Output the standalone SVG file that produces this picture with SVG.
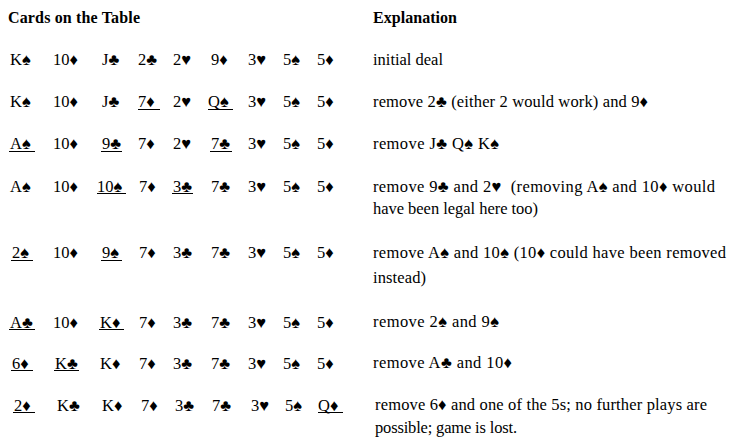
<svg xmlns="http://www.w3.org/2000/svg" width="732" height="445" viewBox="0 0 732 445">
<style>
text{font-family:"Liberation Serif","DejaVu Serif",serif;font-size:16.5px;fill:#000}
.h{font-weight:bold;font-size:16px}
.u{stroke:#000;stroke-width:1}
</style>
<rect width="732" height="445" fill="#fff"/>
<g id="headers">
<text class="h" x="8" y="23" textLength="132">Cards on the Table</text>
<text class="h" x="373" y="23" textLength="84">Explanation</text>
</g>
<g id="row1">
<text x="10" y="65">K♠</text><text x="53" y="65">10♦</text><text x="102" y="65">J♣</text><text x="138" y="65">2♣</text><text x="173" y="65">2♥</text><text x="211" y="65">9♦</text><text x="248" y="65">3♥</text><text x="283" y="65">5♠</text><text x="317" y="65">5♦</text>
</g>
<g id="row2">
<text x="10" y="107">K♠</text><text x="53" y="107">10♦</text><text x="102" y="107">J♣</text><text x="138" y="107">7♦</text><text x="173" y="107">2♥</text><text x="208" y="107">Q♠</text><text x="248" y="107">3♥</text><text x="283" y="107">5♠</text><text x="317" y="107">5♦</text>
<line class="u" x1="138" y1="109.5" x2="160" y2="109.5"/><line class="u" x1="208" y1="109.5" x2="233" y2="109.5"/>
</g>
<g id="row3">
<text x="10" y="149">A♠</text><text x="53" y="149">10♦</text><text x="102" y="149">9♣</text><text x="138" y="149">7♦</text><text x="173" y="149">2♥</text><text x="211" y="149">7♣</text><text x="248" y="149">3♥</text><text x="283" y="149">5♠</text><text x="317" y="149">5♦</text>
<line class="u" x1="9" y1="151.5" x2="35" y2="151.5"/><line class="u" x1="101" y1="151.5" x2="122" y2="151.5"/><line class="u" x1="210" y1="151.5" x2="232" y2="151.5"/>
</g>
<g id="row4">
<text x="10" y="192">A♠</text><text x="53" y="192">10♦</text><text x="97" y="192">10♠</text><text x="139" y="192">7♦</text><text x="173" y="192">3♣</text><text x="211" y="192">7♣</text><text x="248" y="192">3♥</text><text x="283" y="192">5♠</text><text x="317" y="192">5♦</text>
<line class="u" x1="97" y1="193.5" x2="126" y2="193.5"/><line class="u" x1="172" y1="193.5" x2="193" y2="193.5"/>
</g>
<g id="row5">
<text x="12" y="258">2♠</text><text x="53" y="258">10♦</text><text x="102" y="258">9♠</text><text x="139" y="258">7♦</text><text x="173" y="258">3♣</text><text x="211" y="258">7♣</text><text x="248" y="258">3♥</text><text x="283" y="258">5♠</text><text x="317" y="258">5♦</text>
<line class="u" x1="11" y1="260.5" x2="33" y2="260.5"/><line class="u" x1="101" y1="260.5" x2="122" y2="260.5"/>
</g>
<g id="row6">
<text x="10" y="328">A♣</text><text x="53" y="328">10♦</text><text x="100" y="328">K♦</text><text x="139" y="328">7♦</text><text x="173" y="328">3♣</text><text x="211" y="328">7♣</text><text x="248" y="328">3♥</text><text x="283" y="328">5♠</text><text x="317" y="328">5♦</text>
<line class="u" x1="9" y1="329.5" x2="35" y2="329.5"/><line class="u" x1="99" y1="329.5" x2="124" y2="329.5"/>
</g>
<g id="row7">
<text x="12" y="369">6♦</text><text x="55" y="369">K♣</text><text x="100" y="369">K♦</text><text x="139" y="369">7♦</text><text x="173" y="369">3♣</text><text x="211" y="369">7♣</text><text x="248" y="369">3♥</text><text x="283" y="369">5♠</text><text x="317" y="369">5♦</text>
<line class="u" x1="11" y1="370.5" x2="33" y2="370.5"/><line class="u" x1="54" y1="370.5" x2="79" y2="370.5"/>
</g>
<g id="row8">
<text x="14" y="411">2♦</text><text x="57" y="411">K♣</text><text x="102" y="411">K♦</text><text x="141" y="411">7♦</text><text x="175" y="411">3♣</text><text x="212" y="411">7♣</text><text x="251" y="411">3♥</text><text x="285" y="411">5♠</text><text x="318" y="411">Q♦</text>
<line class="u" x1="13" y1="412.5" x2="35" y2="412.5"/><line class="u" x1="318" y1="412.5" x2="343" y2="412.5"/>
</g>
<g id="explanations">
<text x="373" y="65" textLength="70">initial deal</text>
<text x="373" y="107" textLength="275">remove 2♣ (either 2 would work) and 9♦</text>
<text x="373" y="149" textLength="126">remove J♣ Q♠ K♠</text>
<text x="373" y="192" xml:space="preserve" textLength="342">remove 9♣ and 2♥  (removing A♠ and 10♦ would</text>
<text x="373" y="214" textLength="165">have been legal here too)</text>
<text x="373" y="258" textLength="353">remove A♠ and 10♠ (10♦ could have been removed</text>
<text x="373" y="283" textLength="53">instead)</text>
<text x="373" y="327" textLength="126">remove 2♠ and 9♠</text>
<text x="373" y="368" textLength="139">remove A♣ and 10♦</text>
<text x="375" y="410" textLength="332">remove 6♦ and one of the 5s; no further plays are</text>
<text x="375" y="433" textLength="142">possible; game is lost.</text>
</g>
</svg>
